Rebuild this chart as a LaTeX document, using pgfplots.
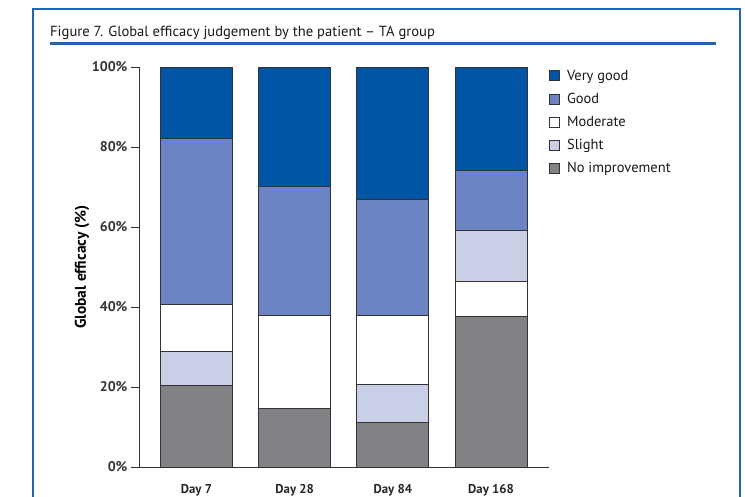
\documentclass[border=0pt]{standalone}
\usepackage{fontspec}
\setmainfont{PT Sans}
\usepackage{pgfplots}
\pgfplotsset{compat=1.18}
\definecolor{vgood}{HTML}{0055A5}
\definecolor{good}{HTML}{6C84C2}
\definecolor{slight}{HTML}{C8CFE7}
\definecolor{noimp}{HTML}{808285}
\definecolor{frameblue}{HTML}{2064B4}
\definecolor{edge}{HTML}{333333}
\pgfplotsset{
  mybar/.style={fill=#1, draw=edge, line width=0.9pt,
    legend image code/.code={\draw[fill=#1,draw=edge,line width=0.8pt] (0pt,-5pt) rectangle (10pt,5pt); \path (15pt,0pt);}},
}
\begin{document}
\begin{tikzpicture}
\path[use as bounding box] (0pt,0pt) rectangle (745pt,-496pt);
\fill[white] (0pt,0pt) rectangle (745pt,-496pt);
\draw[frameblue, line width=2pt] (33pt,-530pt) -- (33pt,-9pt) -- (740pt,-9pt) -- (740pt,-530pt);
\node[anchor=base west, font=\fontsize{14.6}{17}\selectfont, text=black!90, inner sep=0] at (50pt,-36pt) {Figure 7. Global efficacy judgement by the patient – TA group};
\draw[frameblue, line width=2.5pt] (50pt,-43.5pt) -- (716pt,-43.5pt);
\begin{axis}[
  at={(139pt,-467pt)}, anchor=south west,
  scale only axis, width=410pt, height=400pt,
  ybar stacked, bar width=72pt,
  xmin=-0.585, xmax=3.59, ymin=0, ymax=100,
  xtick={0,1,2,3}, xticklabels={Day 7,Day 28,Day 84,Day 168},
  ytick={0,20,40,60,80,100},
  yticklabel={\pgfmathprintnumber{\tick}\%},
  /pgf/number format/assume math mode=true,
  axis x line*=bottom, axis y line*=left,
  axis line style={edge, line width=0.9pt, -},
  major x tick style={draw=none},
  major y tick style={edge, line width=0.9pt},
  tick align=outside, major tick length=8pt,
  xticklabel style={font=\bfseries\fontsize{12.8}{14}\selectfont, text=black!85, yshift=-6pt},
  yticklabel style={font=\bfseries\fontsize{14}{15}\selectfont, text=black!80},
  ylabel={Global efficacy (\%)},
  ylabel style={font=\bfseries\fontsize{15.5}{17}\selectfont, at={(rel axis cs:-0.139,0.5)}, anchor=center},
  reverse legend,
  legend cell align=left,
  legend style={at={(1.0,0.998)}, anchor=north west, draw=none, fill=none,
    font=\fontsize{14.5}{17}\selectfont, text=black!90, row sep=7.4pt, inner sep=0pt},
]
\addplot[mybar=noimp] coordinates {(0,20.3) (1,14.6) (2,11.25) (3,37.6)};
\addlegendentry{No improvement}
\addplot[mybar=slight] coordinates {(0,8.7) (1,0) (2,9.4) (3,0)};
\addlegendentry{Slight}
\addplot[mybar=white] coordinates {(0,11.7) (1,23.4) (2,17.3) (3,8.9)};
\addlegendentry{Moderate}
\addplot[mybar=slight, forget plot] coordinates {(0,0) (1,0) (2,0) (3,12.6)};
\addplot[mybar=good] coordinates {(0,41.4) (1,32.1) (2,28.9) (3,15.1)};
\addlegendentry{Good}
\addplot[mybar=vgood] coordinates {(0,17.9) (1,29.9) (2,33.15) (3,25.8)};
\addlegendentry{Very good}
\end{axis}
\end{tikzpicture}
\end{document}
